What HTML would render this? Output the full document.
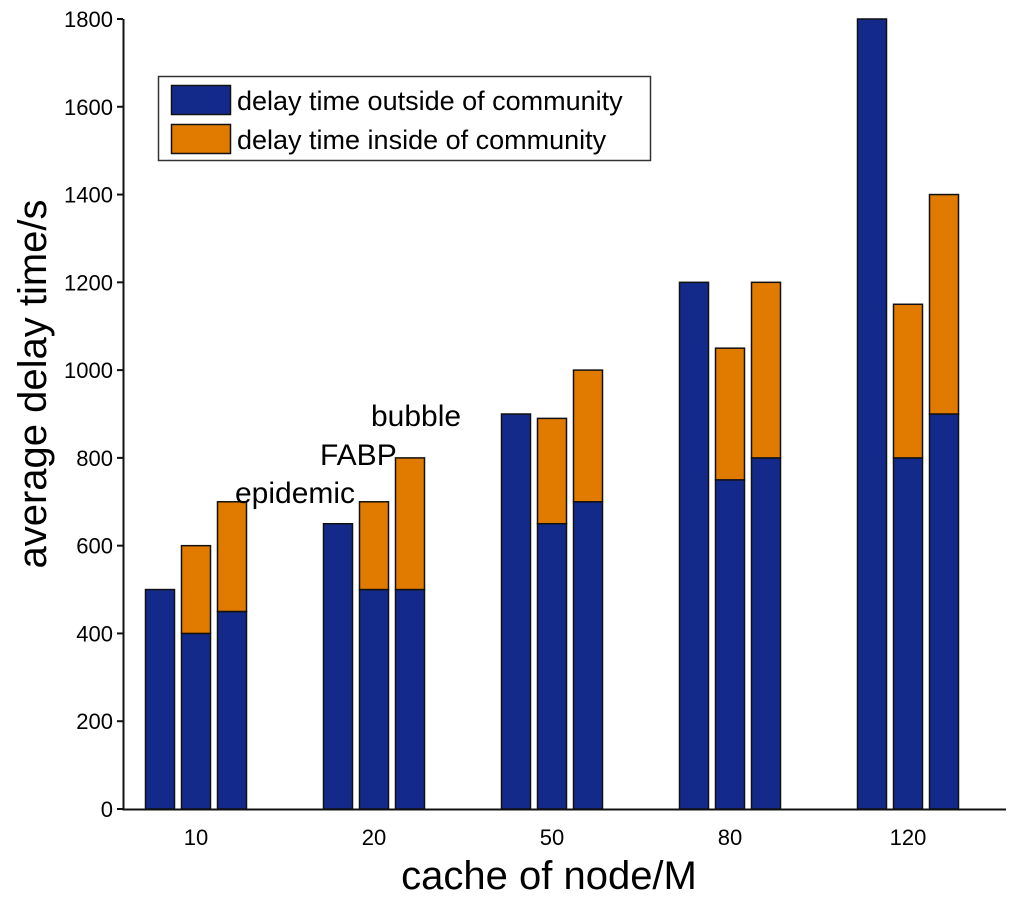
<!DOCTYPE html>
<html><head><meta charset="utf-8"><style>
body{margin:0;background:#fff;}
svg{display:block;font-family:"Liberation Sans",Arial,sans-serif;}
</style></head><body>
<svg id="chart" width="1024" height="901">
<g id="bars"></g>
<g id="axes"></g>
<text x="235" y="503" font-size="30">epidemic</text>
<text x="320" y="465" font-size="30">FABP</text>
<text x="371" y="426" font-size="30">bubble</text>
<g>
<rect x="158.5" y="76.5" width="492" height="84" fill="#fff" stroke="#333" stroke-width="1.5"/>
<rect x="171.5" y="85.5" width="59" height="29" fill="#142a8a" stroke="#111" stroke-width="1.5"/>
<text x="237" y="110" font-size="27">delay time outside of community</text>
<rect x="171.5" y="124.5" width="59" height="29" fill="#e07b00" stroke="#111" stroke-width="1.5"/>
<text x="237" y="149" font-size="27">delay time inside of community</text>
</g>
<text x="549" y="889" font-size="40" text-anchor="middle">cache of node/M</text>
<text transform="translate(46,384) rotate(-90)" font-size="40" text-anchor="middle">average delay time/s</text>
</svg>
<script>
const categories = ["10","20","50","80","120"];
const epidemicOutside = [500,650,900,1200,1800];
const fabpOutside = [400,500,650,750,800];
const fabpInside = [200,200,240,300,350];
const bubbleOutside = [450,500,700,800,900];
const bubbleInside = [250,300,300,400,500];
const yTicks = [0,200,400,600,800,1000,1200,1400,1600,1800];

const NS="http://www.w3.org/2000/svg";
const y0=809, y1=19, yMax=1800;
const yS=v=>y0-(v/yMax)*(y0-y1);
const xC=i=>196+i*178;
const bw=29, off=36;
const bars=document.getElementById('bars'), axes=document.getElementById('axes');
function rect(x,yTop,yBot,fill){
  const r=document.createElementNS(NS,'rect');
  r.setAttribute('x',x);r.setAttribute('y',yTop);
  r.setAttribute('width',bw);r.setAttribute('height',Math.max(0,yBot-yTop));
  r.setAttribute('fill',fill);r.setAttribute('stroke','#111');r.setAttribute('stroke-width','1.5');
  bars.appendChild(r);return r;
}
const BLUE="#142a8a", ORANGE="#e07b00";
categories.forEach((c,i)=>{
  const cx=xC(i);
  let r=rect(cx-off-bw/2,yS(epidemicOutside[i]),y0,BLUE);
  
  
  r=rect(cx-bw/2,yS(fabpOutside[i]),y0,BLUE);
  
  
  r=rect(cx-bw/2,yS(fabpOutside[i]+fabpInside[i]),yS(fabpOutside[i]),ORANGE);
  
  
  r=rect(cx+off-bw/2,yS(bubbleOutside[i]),y0,BLUE);
  
  
  r=rect(cx+off-bw/2,yS(bubbleOutside[i]+bubbleInside[i]),yS(bubbleOutside[i]),ORANGE);
  
  
  const t=document.createElementNS(NS,'text');
  t.setAttribute('x',cx);t.setAttribute('y',845);t.setAttribute('font-size','22');t.setAttribute('text-anchor','middle');
  t.textContent=c;
  
  
  axes.appendChild(t);
});
yTicks.forEach(v=>{
  const t=document.createElementNS(NS,'text');
  t.setAttribute('x',113);t.setAttribute('y',yS(v)+8);t.setAttribute('font-size','22');t.setAttribute('text-anchor','end');
  t.textContent=v;
  
  
  axes.appendChild(t);
  const m=document.createElementNS(NS,'line');
  m.setAttribute('x1',117);m.setAttribute('x2',123);m.setAttribute('y1',yS(v));m.setAttribute('y2',yS(v));
  m.setAttribute('stroke','#111');m.setAttribute('stroke-width','2');
  
  
  axes.appendChild(m);
});
const ax=document.createElementNS(NS,'path');
ax.setAttribute('d',`M123.5 ${y1} V${y0+0.5} H1006`);
ax.setAttribute('fill','none');ax.setAttribute('stroke','#111');ax.setAttribute('stroke-width','2');


axes.appendChild(ax);
</script>
</body></html>
